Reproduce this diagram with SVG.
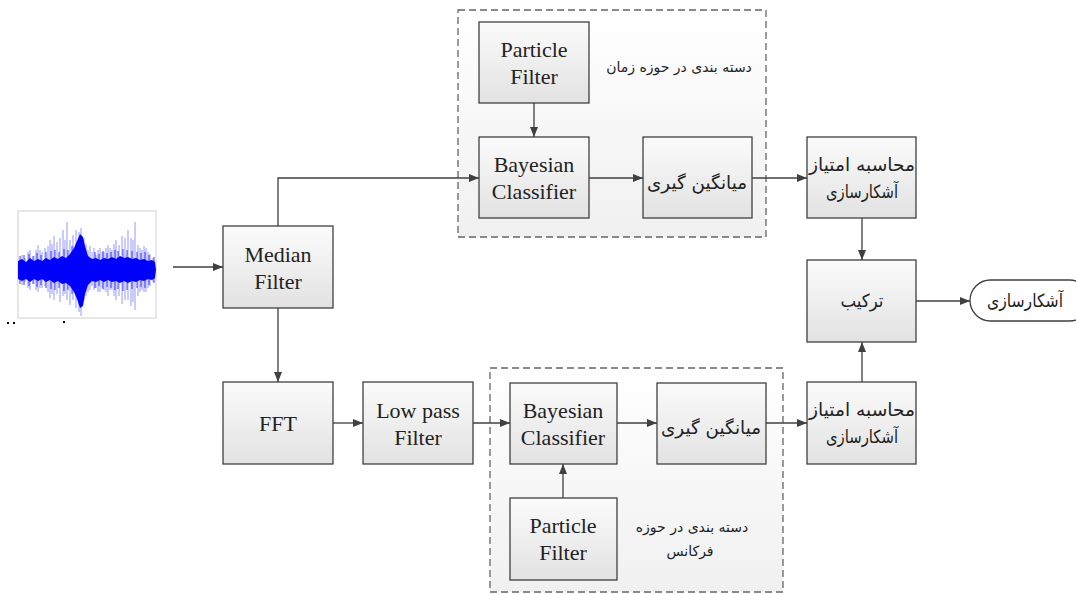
<svg xmlns="http://www.w3.org/2000/svg" width="1076" height="594" viewBox="0 0 1076 594">
<defs>
<linearGradient id="boxg" x1="0" y1="0" x2="0" y2="1">
<stop offset="0" stop-color="#fbfbfb"/><stop offset="1" stop-color="#e2e2e2"/>
</linearGradient>
<linearGradient id="grpg" x1="0" y1="0" x2="0" y2="1">
<stop offset="0" stop-color="#ffffff"/><stop offset="1" stop-color="#f0f0f0"/>
</linearGradient>
<marker id="arr" viewBox="0 0 10 10" refX="10" refY="5" markerWidth="10" markerHeight="10" markerUnits="userSpaceOnUse" orient="auto">
<path d="M0,1 L10,5 L0,9 z" fill="#404040"/>
</marker>
<style>
.box{fill:url(#boxg);stroke:#404040;stroke-width:1.3}
.grp{fill:url(#grpg);stroke:#666;stroke-width:1.3;stroke-dasharray:7,4}
.en{font-family:"Liberation Serif",serif;font-size:22px;fill:#222;text-anchor:middle}
.fa{font-family:"DejaVu Sans",sans-serif;font-size:18px;fill:#222;text-anchor:middle}
.lab{font-family:"DejaVu Sans",sans-serif;font-size:14px;fill:#222;text-anchor:middle}
.con{fill:none;stroke:#404040;stroke-width:1.3;marker-end:url(#arr)}
.sig{stroke:#0000ff;stroke-width:1}
</style>
</defs>
<rect width="1076" height="594" fill="#fff"/>

<g id="group-time">
<rect class="grp" x="458" y="10" width="308" height="227"/>
<text class="lab" x="679" y="72">دسته بندی در حوزه زمان</text>
</g>
<g id="group-freq">
<rect class="grp" x="490" y="368" width="293" height="224"/>
<text class="lab" x="692" y="532">دسته بندی در حوزه</text>
<text class="lab" x="690" y="556">فرکانس</text>
</g>

<g id="signal">
<rect x="18" y="211" width="138" height="107" fill="#fff" stroke="#d0d0d0" stroke-width="1"/>
<g class="sig" opacity="0.4">
<path d="M22,255V285M25,258V282M28,252V288M30,250V290M34,256V284M36,250V290M38,245V292M40,250V288M42,252V288M45,248V286M48,246V292M50,240V298M52,244V294M54,236V300M57,242V294M60,238V302M63,230V296M65,240V294M67,222V300M70,240V305M73,235V300M76,230V308M79,232V312M81,228V316M84,238V300M86,244V296M88,250V292M90,246V290M92,252V286M94,248V290M96,255V288M98,250V292M100,248V292M102,252V288M104,252V290M106,248V292M108,245V296M110,248V290M112,250V290M114,244V296M116,240V300M119,245V296M122,236V304M125,238V300M128,230V300M131,238V306M133,240V302M135,222V310M138,245V296M140,248V292M142,250V290M144,246V292M146,248V292M148,252V288M150,254V286M153,258V282"/>
</g>
<g class="sig" opacity="0.75">
<path d="M20,256V284M24,255V285M29,254V286M33,256V284M37,253V287M41,255V285M46,252V288M51,251V289M55,250V290M59,252V288M64,249V291M68,250V290M72,246V294M95,252V288M99,254V286M103,251V289M107,253V287M111,252V288M115,250V290M118,251V289M123,249V291M127,250V290M132,251V289M137,252V288M141,253V287M145,252V288M149,255V285M154,257V283"/>
</g>
<path fill="#0000ff" d="M18,261 L22,259 L26,262 L30,258 L34,261 L38,259 L42,261 L46,258 L50,260 L54,257 L58,259 L62,256 L66,258 L70,254 L74,248 L77,241 L80,234 L83,237 L85,246 L88,256 L92,259 L96,258 L100,260 L104,258 L108,259 L112,257 L116,259 L120,256 L124,258 L128,257 L132,259 L136,258 L140,260 L144,259 L148,261 L152,260 L155,262 L156,270 L155,278 L152,280 L148,279 L144,281 L140,280 L136,282 L132,281 L128,283 L124,281 L120,283 L116,281 L112,282 L108,280 L104,282 L100,280 L96,282 L92,281 L88,285 L85,294 L83,306 L80,308 L77,299 L74,292 L70,286 L66,283 L62,284 L58,281 L54,283 L50,280 L46,282 L42,279 L38,281 L34,279 L30,282 L26,279 L22,281 L18,279 Z"/>
<rect x="7" y="322" width="2" height="2" fill="#000"/>
<rect x="13" y="322" width="2" height="2" fill="#000"/>
<rect x="63" y="321" width="2" height="2" fill="#000"/>
</g>

<g id="median">
<rect class="box" x="223" y="226" width="110" height="82"/>
<text class="en" x="278" y="262">Median</text>
<text class="en" x="278" y="289">Filter</text>
</g>
<g id="fft">
<rect class="box" x="223" y="382" width="110" height="82"/>
<text class="en" x="278" y="431">FFT</text>
</g>
<g id="lpf">
<rect class="box" x="363" y="382" width="110" height="82"/>
<text class="en" x="418" y="418">Low pass</text>
<text class="en" x="418" y="445">Filter</text>
</g>
<g id="pf-top">
<rect class="box" x="479" y="22" width="110" height="81"/>
<text class="en" x="534" y="57">Particle</text>
<text class="en" x="534" y="84">Filter</text>
</g>
<g id="bayes-top">
<rect class="box" x="479" y="137" width="110" height="81"/>
<text class="en" x="534" y="172">Bayesian</text>
<text class="en" x="534" y="199">Classifier</text>
</g>
<g id="avg-top">
<rect class="box" x="643" y="137" width="109" height="81"/>
<text class="fa" x="697" y="189" textLength="100" lengthAdjust="spacingAndGlyphs">میانگین گیری</text>
</g>
<g id="bayes-bot">
<rect class="box" x="510" y="383" width="107" height="81"/>
<text class="en" x="563" y="418">Bayesian</text>
<text class="en" x="563" y="445">Classifier</text>
</g>
<g id="avg-bot">
<rect class="box" x="657" y="383" width="109" height="81"/>
<text class="fa" x="711" y="434" textLength="100" lengthAdjust="spacingAndGlyphs">میانگین گیری</text>
</g>
<g id="pf-bot">
<rect class="box" x="510" y="498" width="107" height="82"/>
<text class="en" x="563" y="533">Particle</text>
<text class="en" x="563" y="560">Filter</text>
</g>
<g id="score-top">
<rect class="box" x="807" y="137" width="109" height="81"/>
<text class="fa" x="862" y="171" textLength="106" lengthAdjust="spacingAndGlyphs">محاسبه امتیاز</text>
<text class="fa" x="862" y="198" textLength="72" lengthAdjust="spacingAndGlyphs">آشکارسازی</text>
</g>
<g id="score-bot">
<rect class="box" x="807" y="382" width="109" height="82"/>
<text class="fa" x="862" y="416" textLength="106" lengthAdjust="spacingAndGlyphs">محاسبه امتیاز</text>
<text class="fa" x="862" y="443" textLength="72" lengthAdjust="spacingAndGlyphs">آشکارسازی</text>
</g>
<g id="combine">
<rect class="box" x="807" y="260" width="109" height="82"/>
<text class="fa" x="862" y="307" textLength="43" lengthAdjust="spacingAndGlyphs">ترکیب</text>
</g>
<g id="detect">
<rect x="970" y="280" width="120" height="41" rx="20.5" ry="20.5" fill="#fff" stroke="#404040" stroke-width="1.3"/>
<text class="fa" x="1025" y="307" textLength="76" lengthAdjust="spacingAndGlyphs">آشکارسازی</text>
</g>

<g id="connectors">
<path class="con" d="M173,267H223"/>
<path class="con" d="M278,226V178H479"/>
<path class="con" d="M278,308V382"/>
<path class="con" d="M333,423H363"/>
<path class="con" d="M473,423H510"/>
<path class="con" d="M617,423H657"/>
<path class="con" d="M766,423H807"/>
<path class="con" d="M563,498V464"/>
<path class="con" d="M534,103V137"/>
<path class="con" d="M589,178H643"/>
<path class="con" d="M752,178H807"/>
<path class="con" d="M862,218V260"/>
<path class="con" d="M862,382V342"/>
<path class="con" d="M916,301H970"/>
</g>
</svg>
